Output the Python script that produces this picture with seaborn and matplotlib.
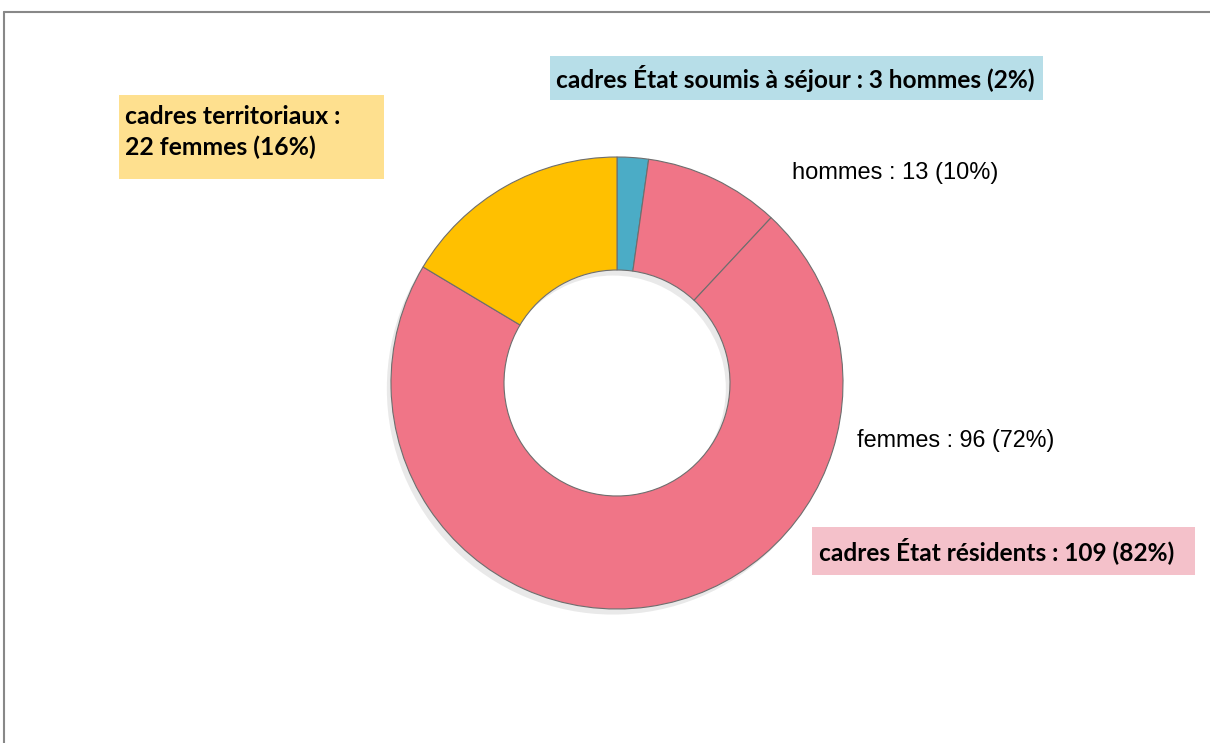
import matplotlib
matplotlib.use("Agg")
import matplotlib.pyplot as plt
import matplotlib.patheffects as pe
from matplotlib.lines import Line2D
from matplotlib.patches import Rectangle
import seaborn as sns

# Data (clockwise from 12 o'clock)
categories = ["cadres État soumis à séjour", "hommes", "femmes", "cadres territoriaux"]
counts = [3, 13, 96, 22]
colors = ["#4bacc6", "#f07587", "#f07587", "#ffc000"]

sns.set_theme(style="white")
plt.rcParams['font.family'] = ['Liberation Sans', 'DejaVu Sans']

W, H = 1210, 743
fig = plt.figure(figsize=(W / 100, H / 100), dpi=100)
fig.patch.set_facecolor("white")

# donut centre / radius in pixels
cx, cy, r = 617, 383, 226
ax = fig.add_axes([(cx - r) / W, 1 - (cy + r) / H, 2 * r / W, 2 * r / H])

# soft shadow under the ring
shadow, _ = ax.pie([sum(counts)], colors=["white"], startangle=90,
                   wedgeprops=dict(width=0.5, linewidth=0))
shadow[0].set_path_effects([pe.SimplePatchShadow(offset=(-3, -4), alpha=0.12), pe.Normal()])

wedges, _ = ax.pie(counts, colors=colors, startangle=90, counterclock=False,
                   wedgeprops=dict(width=0.5, edgecolor="#6e6e6e", linewidth=0.8))
ax.set_xlim(-1, 1)
ax.set_ylim(-1, 1)
ax.set_aspect("equal")
ax.axis("off")


def px(x, y):
    return x / W, 1 - y / H


def box(x0, y0, x1, y1, fc):
    fig.add_artist(Rectangle(px(x0, y1), (x1 - x0) / W, (y1 - y0) / H,
                             transform=fig.transFigure, fc=fc, ec="none", zorder=0))


bold = ['Lato', 'DejaVu Sans']

# labels
box(550, 56, 1043, 100, "#b7dee8")
fig.text(*px(556, 79), "cadres État soumis à séjour : 3 hommes (2%)", family=bold,
         fontsize=17.6, fontweight="bold", va="center", ha="left", color="black")
box(119, 95, 384, 179, "#fee08f")
fig.text(*px(125, 132), "cadres territoriaux :\n22 femmes (16%)", family=bold,
         fontsize=17.8, fontweight="bold", va="center", ha="left", linespacing=1.35,
         color="black")
box(812, 527, 1195, 575, "#f4c1ca")
fig.text(*px(819, 551), "cadres État résidents : 109 (82%)", family=bold,
         fontsize=17.6, fontweight="bold", va="center", ha="left", color="black")
fig.text(*px(792, 173), "hommes : 13 (10%)", fontsize=17, va="center", ha="left",
         color="black")
fig.text(*px(857, 440), "femmes : 96 (72%)", fontsize=16.8, va="center", ha="left",
         color="black")

# chart frame (top and left edges visible)
fig.add_artist(Line2D([4 / W, 1.0], [1 - 12 / H, 1 - 12 / H], color="#888888", lw=1.5))
fig.add_artist(Line2D([4 / W, 4 / W], [0.0, 1 - 12 / H], color="#888888", lw=1.5))

fig.savefig("out.png", dpi=100, facecolor="white")
